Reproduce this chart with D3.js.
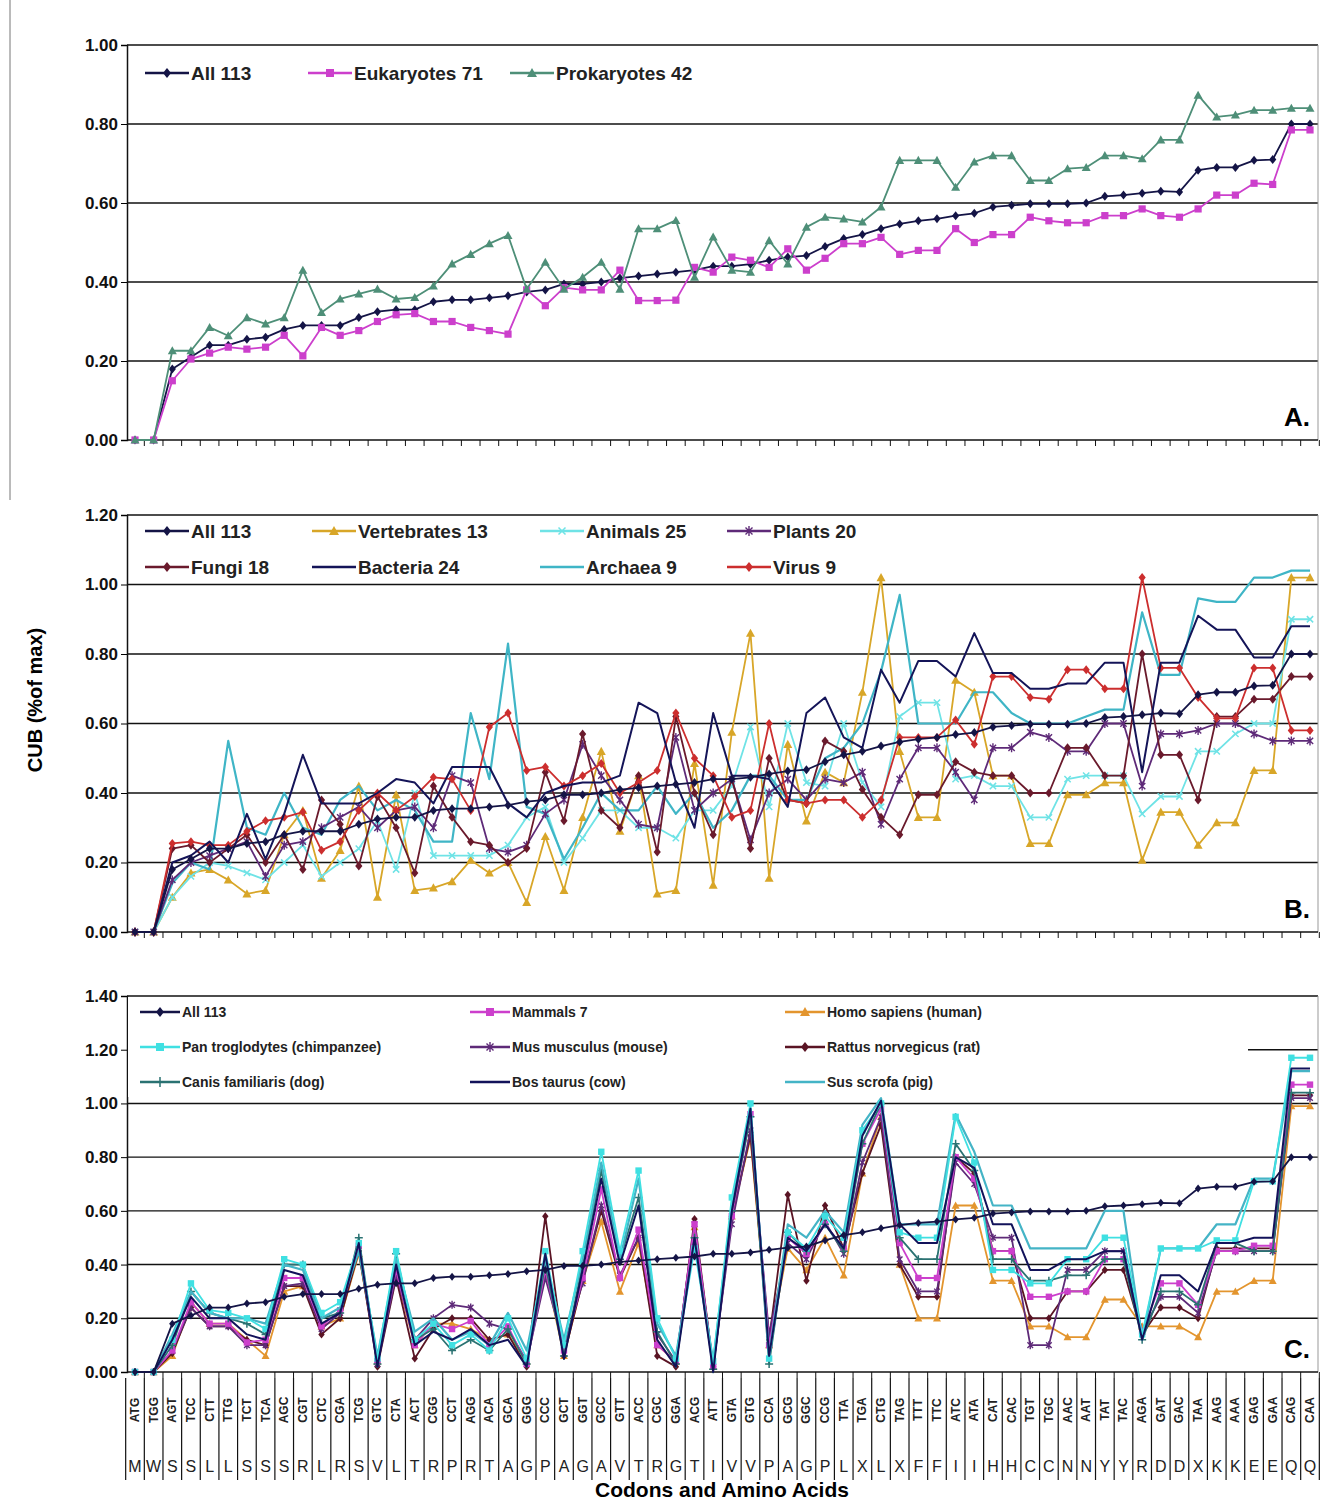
<!DOCTYPE html>
<html><head><meta charset="utf-8">
<script src="https://cdn.jsdelivr.net/npm/d3@7"></script>
<style>
body{margin:0;background:#fff;font-family:Arial,"Liberation Sans",sans-serif;}
</style></head>
<body><svg id="chart" width="1323" height="1506"></svg>
<script>
// codon order along the x axis and their amino acids
const codons = ['ATG','TGG','AGT','TCC','CTT','TTG','TCT','TCA','AGC','CGT','CTC','CGA','TCG','GTC','CTA','ACT','CGG','CCT','AGG','ACA','GCA','GGG','CCC','GCT','GGT','GCC','GTT','ACC','CGC','GGA','ACG','ATT','GTA','GTG','CCA','GCG','GGC','CCG','TTA','TGA','CTG','TAG','TTT','TTC','ATC','ATA','CAT','CAC','TGT','TGC','AAC','AAT','TAT','TAC','AGA','GAT','GAC','TAA','AAG','AAA','GAG','GAA','CAG','CAA'];
const aminos = ['M','W','S','S','L','L','S','S','S','R','L','R','S','V','L','T','R','P','R','T','A','G','P','A','G','A','V','T','R','G','T','I','V','V','P','A','G','P','L','X','L','X','F','F','I','I','H','H','C','C','N','N','Y','Y','R','D','D','X','K','K','E','E','Q','Q'];

const all113 = [0,0,0.18,0.21,0.24,0.24,0.255,0.26,0.28,0.29,0.29,0.29,0.31,0.325,0.33,0.33,0.35,0.355,0.355,0.36,0.365,0.375,0.38,0.395,0.395,0.40,0.41,0.415,0.42,0.425,0.43,0.44,0.44,0.445,0.455,0.463,0.467,0.49,0.51,0.52,0.535,0.547,0.555,0.56,0.568,0.574,0.59,0.594,0.598,0.598,0.598,0.60,0.617,0.62,0.625,0.63,0.628,0.683,0.69,0.69,0.708,0.71,0.80,0.80];
const eukaryotes = [0,0,0.15,0.205,0.22,0.235,0.23,0.235,0.265,0.213,0.285,0.265,0.277,0.30,0.317,0.32,0.30,0.30,0.285,0.277,0.268,0.38,0.34,0.386,0.38,0.38,0.43,0.353,0.353,0.354,0.437,0.425,0.463,0.455,0.437,0.484,0.43,0.46,0.497,0.497,0.513,0.47,0.48,0.48,0.535,0.50,0.52,0.52,0.564,0.555,0.55,0.55,0.568,0.568,0.585,0.568,0.564,0.585,0.62,0.62,0.65,0.647,0.785,0.785];
const prokaryotes = [0,0,0.226,0.226,0.285,0.264,0.31,0.294,0.31,0.43,0.323,0.357,0.37,0.382,0.357,0.361,0.39,0.446,0.47,0.497,0.518,0.382,0.45,0.382,0.412,0.45,0.382,0.535,0.535,0.556,0.412,0.514,0.43,0.425,0.505,0.446,0.539,0.564,0.56,0.552,0.59,0.708,0.708,0.708,0.64,0.704,0.72,0.72,0.657,0.657,0.687,0.69,0.72,0.72,0.712,0.76,0.76,0.873,0.818,0.823,0.835,0.835,0.84,0.84];

const vertebrates = [0,0,0.10,0.17,0.18,0.15,0.11,0.12,0.28,0.35,0.155,0.235,0.42,0.10,0.395,0.12,0.127,0.145,0.207,0.17,0.20,0.085,0.275,0.12,0.33,0.52,0.29,0.45,0.11,0.12,0.485,0.135,0.575,0.86,0.155,0.54,0.32,0.46,0.43,0.69,1.02,0.52,0.33,0.33,0.725,0.69,0.45,0.45,0.255,0.255,0.395,0.395,0.43,0.43,0.207,0.345,0.345,0.25,0.315,0.315,0.465,0.465,1.02,1.02];
const animals = [0,0,0.10,0.16,0.20,0.19,0.17,0.15,0.20,0.25,0.16,0.20,0.24,0.32,0.18,0.40,0.22,0.22,0.22,0.22,0.25,0.33,0.36,0.20,0.27,0.35,0.35,0.30,0.30,0.27,0.35,0.35,0.42,0.59,0.36,0.60,0.43,0.42,0.60,0.43,0.36,0.62,0.66,0.66,0.44,0.45,0.42,0.42,0.33,0.33,0.44,0.45,0.45,0.45,0.34,0.39,0.39,0.52,0.52,0.57,0.60,0.60,0.90,0.90];
const plants = [0,0,0.15,0.20,0.22,0.24,0.26,0.16,0.25,0.26,0.30,0.33,0.36,0.30,0.35,0.36,0.30,0.45,0.43,0.24,0.23,0.25,0.34,0.38,0.54,0.45,0.38,0.31,0.30,0.56,0.35,0.40,0.44,0.265,0.40,0.44,0.38,0.44,0.43,0.46,0.31,0.44,0.53,0.53,0.46,0.38,0.53,0.53,0.575,0.56,0.52,0.52,0.60,0.60,0.42,0.57,0.57,0.58,0.60,0.60,0.57,0.55,0.55,0.55];
const fungi = [0,0,0.24,0.25,0.20,0.24,0.28,0.20,0.28,0.18,0.38,0.31,0.19,0.39,0.30,0.17,0.42,0.33,0.26,0.25,0.20,0.24,0.46,0.32,0.57,0.35,0.30,0.45,0.23,0.62,0.40,0.28,0.44,0.24,0.50,0.38,0.37,0.55,0.52,0.41,0.33,0.28,0.395,0.395,0.49,0.46,0.45,0.45,0.40,0.40,0.53,0.53,0.45,0.45,0.80,0.51,0.51,0.38,0.62,0.62,0.67,0.67,0.735,0.735];
const bacteria = [0,0,0.20,0.22,0.26,0.20,0.34,0.21,0.34,0.51,0.37,0.37,0.37,0.40,0.44,0.43,0.37,0.475,0.475,0.475,0.37,0.33,0.40,0.42,0.43,0.43,0.45,0.66,0.63,0.43,0.30,0.63,0.45,0.45,0.44,0.36,0.63,0.675,0.56,0.53,0.755,0.66,0.78,0.78,0.735,0.86,0.745,0.745,0.70,0.70,0.715,0.715,0.775,0.775,0.46,0.775,0.775,0.91,0.87,0.87,0.79,0.79,0.88,0.88];
const archaea = [0,0,0.14,0.20,0.18,0.55,0.30,0.28,0.40,0.30,0.28,0.38,0.42,0.35,0.38,0.35,0.26,0.26,0.63,0.44,0.83,0.36,0.34,0.21,0.30,0.40,0.35,0.35,0.42,0.34,0.40,0.30,0.35,0.45,0.45,0.38,0.38,0.50,0.53,0.60,0.75,0.97,0.60,0.60,0.60,0.69,0.69,0.63,0.60,0.60,0.60,0.62,0.64,0.64,0.92,0.74,0.74,0.96,0.95,0.95,1.02,1.02,1.04,1.04];
const virus = [0,0,0.255,0.26,0.25,0.25,0.29,0.32,0.33,0.345,0.235,0.26,0.35,0.40,0.35,0.39,0.445,0.44,0.35,0.59,0.63,0.465,0.475,0.42,0.45,0.485,0.40,0.43,0.465,0.63,0.50,0.45,0.33,0.35,0.60,0.38,0.37,0.38,0.38,0.33,0.38,0.56,0.56,0.56,0.61,0.54,0.735,0.735,0.675,0.67,0.755,0.755,0.70,0.70,1.02,0.76,0.76,0.675,0.615,0.615,0.76,0.76,0.58,0.58];

const mammals = [0,0,0.08,0.26,0.18,0.18,0.11,0.12,0.35,0.35,0.17,0.23,0.47,0.04,0.38,0.10,0.18,0.16,0.19,0.10,0.17,0.03,0.38,0.08,0.35,0.68,0.35,0.53,0.10,0.04,0.55,0.02,0.58,0.96,0.10,0.50,0.44,0.55,0.46,0.85,0.98,0.48,0.35,0.35,0.80,0.72,0.45,0.45,0.28,0.28,0.30,0.30,0.42,0.42,0.15,0.33,0.33,0.25,0.45,0.45,0.47,0.47,1.07,1.07];
const chimp = [0,0,0.12,0.33,0.23,0.22,0.20,0.16,0.42,0.40,0.22,0.26,0.48,0.05,0.45,0.12,0.18,0.10,0.14,0.08,0.20,0.05,0.45,0.10,0.45,0.82,0.45,0.75,0.20,0.05,0.46,0.04,0.65,1.00,0.05,0.52,0.46,0.58,0.50,0.90,1.00,0.52,0.50,0.50,0.95,0.78,0.38,0.38,0.33,0.33,0.42,0.42,0.50,0.50,0.14,0.46,0.46,0.46,0.49,0.49,0.71,0.71,1.17,1.17];
const pig = [0,0,0.14,0.30,0.22,0.20,0.20,0.18,0.40,0.38,0.20,0.24,0.45,0.06,0.42,0.15,0.20,0.12,0.15,0.10,0.22,0.08,0.42,0.12,0.42,0.78,0.42,0.72,0.18,0.06,0.48,0.04,0.62,0.98,0.06,0.55,0.50,0.60,0.52,0.92,1.02,0.55,0.55,0.55,0.96,0.82,0.62,0.62,0.46,0.46,0.46,0.46,0.60,0.60,0.12,0.46,0.46,0.46,0.55,0.55,0.72,0.72,1.12,1.12];
const cow = [0,0,0.12,0.28,0.20,0.20,0.14,0.12,0.38,0.36,0.18,0.22,0.48,0.02,0.40,0.10,0.15,0.12,0.16,0.10,0.12,0.02,0.44,0.05,0.38,0.72,0.40,0.62,0.12,0.02,0.50,0.00,0.60,0.98,0.06,0.50,0.45,0.55,0.46,0.88,1.01,0.55,0.48,0.48,0.80,0.76,0.55,0.55,0.38,0.38,0.42,0.42,0.45,0.45,0.12,0.36,0.36,0.30,0.48,0.48,0.50,0.50,1.13,1.13];
const dog = [0,0,0.10,0.30,0.22,0.20,0.18,0.14,0.40,0.40,0.20,0.22,0.50,0.03,0.44,0.12,0.16,0.08,0.12,0.08,0.16,0.03,0.40,0.06,0.40,0.75,0.42,0.65,0.15,0.03,0.50,0.01,0.60,0.95,0.03,0.52,0.45,0.55,0.45,0.85,1.00,0.50,0.42,0.42,0.85,0.75,0.42,0.42,0.34,0.34,0.36,0.36,0.42,0.42,0.12,0.30,0.30,0.25,0.48,0.48,0.45,0.45,1.04,1.04];
const mouse = [0,0,0.08,0.24,0.17,0.17,0.10,0.10,0.32,0.33,0.16,0.22,0.46,0.03,0.36,0.12,0.20,0.25,0.24,0.18,0.16,0.04,0.35,0.10,0.33,0.62,0.36,0.50,0.14,0.04,0.55,0.02,0.55,0.90,0.14,0.48,0.42,0.56,0.44,0.78,0.95,0.42,0.30,0.30,0.78,0.70,0.50,0.50,0.10,0.10,0.38,0.38,0.45,0.45,0.15,0.28,0.28,0.22,0.45,0.45,0.45,0.45,1.02,1.02];
const rat = [0,0,0.07,0.24,0.17,0.17,0.12,0.10,0.32,0.32,0.14,0.20,0.45,0.02,0.35,0.05,0.16,0.20,0.20,0.12,0.14,0.02,0.58,0.06,0.34,0.60,0.35,0.50,0.06,0.02,0.57,0.02,0.58,0.88,0.12,0.66,0.34,0.62,0.46,0.74,0.92,0.40,0.28,0.28,0.80,0.74,0.45,0.45,0.20,0.20,0.30,0.30,0.38,0.38,0.14,0.24,0.24,0.20,0.46,0.46,0.46,0.46,1.03,1.03];
const human = [0,0,0.06,0.26,0.18,0.18,0.12,0.06,0.30,0.32,0.17,0.20,0.44,0.04,0.36,0.10,0.18,0.18,0.16,0.12,0.14,0.04,0.38,0.06,0.34,0.56,0.30,0.48,0.10,0.04,0.54,0.02,0.58,0.87,0.10,0.46,0.38,0.50,0.36,0.74,0.95,0.40,0.20,0.20,0.62,0.62,0.34,0.34,0.17,0.17,0.13,0.13,0.27,0.27,0.17,0.17,0.17,0.13,0.30,0.30,0.34,0.34,0.99,0.99];

const yTicksA = [0,0.2,0.4,0.6,0.8,1.0];
const yTicksB = [0,0.2,0.4,0.6,0.8,1.0,1.2];
const yTicksC = [0,0.2,0.4,0.6,0.8,1.0,1.2,1.4];

const svg = d3.select('#chart');
const left = 127, right = 1318;
const x = d3.scalePoint().domain(d3.range(codons.length)).range([135, 1310]);
const step = x.step();

const NAVY = '#141446';
const panels = [
  { letter: 'A.', top: 45, bottom: 440, max: 1.0, ticks: yTicksA,
    series: [
      { name: 'All 113', v: all113, c: NAVY, m: 'diamond' },
      { name: 'Eukaryotes 71', v: eukaryotes, c: '#cc3fcc', m: 'square' },
      { name: 'Prokaryotes 42', v: prokaryotes, c: '#4e8f78', m: 'triangle' }],
    legend: { fs: 19, rows: [[['All 113',145],['Eukaryotes 71',308],['Prokaryotes 42',510]]], y0: 73, dy: 0 } },
  { letter: 'B.', top: 515, bottom: 932, max: 1.2, ticks: yTicksB,
    series: [
      { name: 'Vertebrates 13', v: vertebrates, c: '#d8a628', m: 'triangle' },
      { name: 'Animals 25', v: animals, c: '#6fe3e6', m: 'cross' },
      { name: 'Archaea 9', v: archaea, c: '#3fb5c6', m: null, w: 2.2 },
      { name: 'Plants 20', v: plants, c: '#5e2a78', m: 'star' },
      { name: 'Fungi 18', v: fungi, c: '#6a1a2c', m: 'diamond' },
      { name: 'Virus 9', v: virus, c: '#cc2e2e', m: 'diamond' },
      { name: 'Bacteria 24', v: bacteria, c: '#141458', m: null, w: 2 },
      { name: 'All 113', v: all113, c: NAVY, m: 'diamond' }],
    legend: { fs: 19, rows: [[['All 113',145],['Vertebrates 13',312],['Animals 25',540],['Plants 20',727]],
                            [['Fungi 18',145],['Bacteria 24',312],['Archaea 9',540],['Virus 9',727]]], y0: 531, dy: 36 } },
  { letter: 'C.', top: 996, bottom: 1372, max: 1.4, ticks: yTicksC,
    series: [
      { name: 'Homo sapiens (human)', v: human, c: '#e3952e', m: 'triangle' },
      { name: 'Rattus norvegicus (rat)', v: rat, c: '#5a1424', m: 'diamond' },
      { name: 'Mus musculus (mouse)', v: mouse, c: '#5e2a78', m: 'star' },
      { name: 'Mammals 7', v: mammals, c: '#cc3fcc', m: 'square' },
      { name: 'Canis familiaris (dog)', v: dog, c: '#2a7272', m: 'plus' },
      { name: 'Sus scrofa (pig)', v: pig, c: '#44b4c6', m: null, w: 2.2 },
      { name: 'Pan troglodytes (chimpanzee)', v: chimp, c: '#3fe0e2', m: 'square' },
      { name: 'Bos taurus (cow)', v: cow, c: '#12125a', m: null, w: 2 },
      { name: 'All 113', v: all113, c: NAVY, m: 'diamond' }],
    legend: { fs: 14, box: [128, 997, 1120, 100], rows: [[['All 113',140],['Mammals 7',470],['Homo sapiens (human)',785]],
                            [['Pan troglodytes (chimpanzee)',140],['Mus musculus (mouse)',470],['Rattus norvegicus (rat)',785]],
                            [['Canis familiaris (dog)',140],['Bos taurus (cow)',470],['Sus scrofa (pig)',785]]], y0: 1012, dy: 35 } }
];

function marker(g, type, cx, cy, col, s) {
  if (!type) return;
  if (type === 'diamond') g.append('path').attr('d', `M${cx},${cy-s}L${cx+s*0.8},${cy}L${cx},${cy+s}L${cx-s*0.8},${cy}Z`).attr('fill', col);
  else if (type === 'square') g.append('rect').attr('x', cx-s*0.8).attr('y', cy-s*0.8).attr('width', s*1.6).attr('height', s*1.6).attr('fill', col);
  else if (type === 'triangle') g.append('path').attr('d', `M${cx},${cy-s}L${cx+s},${cy+s*0.8}L${cx-s},${cy+s*0.8}Z`).attr('fill', col);
  else if (type === 'cross') g.append('path').attr('d', `M${cx-s*0.7},${cy-s*0.7}L${cx+s*0.7},${cy+s*0.7}M${cx+s*0.7},${cy-s*0.7}L${cx-s*0.7},${cy+s*0.7}`).attr('stroke', col).attr('stroke-width', 1.5);
  else if (type === 'plus') g.append('path').attr('d', `M${cx-s},${cy}L${cx+s},${cy}M${cx},${cy-s}L${cx},${cy+s}`).attr('stroke', col).attr('stroke-width', 1.5);
  else if (type === 'star') g.append('path').attr('d', `M${cx-s*0.7},${cy-s*0.7}L${cx+s*0.7},${cy+s*0.7}M${cx+s*0.7},${cy-s*0.7}L${cx-s*0.7},${cy+s*0.7}M${cx},${cy-s}L${cx},${cy+s}`).attr('stroke', col).attr('stroke-width', 1.4);
}

// thin left frame line
svg.append('line').attr('x1', 10).attr('x2', 10).attr('y1', 0).attr('y2', 500).attr('stroke', '#777').attr('stroke-width', 1);

panels.forEach(p => {
  const y = d3.scaleLinear().domain([0, p.max]).range([p.bottom, p.top]);
  const g = svg.append('g');
  // grid
  g.selectAll('.grid').data(p.ticks.slice(1)).enter().append('line')
    .attr('x1', left).attr('x2', right).attr('y1', d => y(d)).attr('y2', d => y(d))
    .attr('stroke', '#111').attr('stroke-width', 1.4);
  g.append('line').attr('x1', right).attr('x2', right).attr('y1', p.top).attr('y2', p.bottom).attr('stroke', '#999');
  // y axis
  const ya = g.append('g').attr('transform', `translate(${left},0)`)
    .call(d3.axisLeft(y).tickValues(p.ticks).tickFormat(d3.format('.2f')).tickSize(6));
  ya.select('.domain').attr('stroke', '#111').attr('stroke-width', 1.5);
  ya.selectAll('text').attr('font-size', 17).attr('font-weight', 'bold').attr('font-family', 'Arial, Liberation Sans').attr('fill', '#111');
  // x baseline and ticks
  g.append('line').attr('x1', left).attr('x2', right).attr('y1', p.bottom).attr('y2', p.bottom).attr('stroke', '#111').attr('stroke-width', 1.5);
  g.selectAll('.xt').data(d3.range(codons.length)).enter().append('line')
    .attr('x1', i => x(i) + step / 2).attr('x2', i => x(i) + step / 2)
    .attr('y1', p.bottom).attr('y2', p.bottom + 6).attr('stroke', '#111');
  // legend background (covers grid lines like the original)
  if (p.legend.box) {
    const b = p.legend.box;
    g.append('rect').attr('x', b[0]).attr('y', b[1]).attr('width', b[2]).attr('height', b[3]).attr('fill', '#fff');
  }
  // series
  const line = d3.line().x((d, i) => x(i)).y(d => y(d));
  p.series.forEach(s => {
    g.append('path').datum(s.v).attr('d', line).attr('fill', 'none')
      .attr('stroke', s.c).attr('stroke-width', s.w || 1.8).attr('stroke-linejoin', 'round');
    if (s.m) s.v.forEach((d, i) => marker(g, s.m, x(i), y(d), s.c, p.legend.fs > 15 ? 4.5 : 4));
  });
  // legend
  const lookup = {};
  p.series.forEach(s => lookup[s.name] = s);
  const big = p.legend.fs > 15;
  p.legend.rows.forEach((row, ri) => row.forEach(([name, lx]) => {
    const s = lookup[name];
    const ly = p.legend.y0 + ri * p.legend.dy;
    const len = big ? 44 : 40;
    g.append('line').attr('x1', lx).attr('x2', lx + len).attr('y1', ly).attr('y2', ly).attr('stroke', s.c).attr('stroke-width', 2.5);
    marker(g, s.m, lx + len / 2, ly, s.c, 5);
    g.append('text').attr('x', lx + len + 2).attr('y', ly).attr('dy', '0.35em')
      .attr('font-size', p.legend.fs).attr('font-weight', 'bold')
      .attr('font-family', 'Arial, Liberation Sans').attr('fill', '#222').text(name);
  }));
  g.append('text').attr('x', 1310).attr('y', p.bottom - 14).attr('text-anchor', 'end')
    .attr('font-size', 26).attr('font-weight', 'bold').attr('font-family', 'Arial').text(p.letter);
});

// bottom label table
const tb = svg.append('g');
d3.range(codons.length + 1).forEach(i => {
  const xx = x(0) - step / 2 + i * step;
  tb.append('line').attr('x1', xx).attr('x2', xx).attr('y1', 1378).attr('y2', 1480).attr('stroke', '#111').attr('stroke-width', 1.2);
});
tb.selectAll('.cod').data(codons).enter().append('text')
  .attr('transform', (d, i) => `translate(${x(i) + 4},1410) rotate(-90)`)
  .attr('text-anchor', 'middle').attr('font-size', 12).attr('font-weight', 'bold')
  .attr('font-family', 'Arial').attr('fill', '#222').text(d => d);
tb.selectAll('.aa').data(aminos).enter().append('text')
  .attr('x', (d, i) => x(i)).attr('y', 1472).attr('text-anchor', 'middle')
  .attr('font-size', 16).attr('font-family', 'Arial').attr('fill', '#222').text(d => d);

svg.append('text').attr('x', 722).attr('y', 1497).attr('text-anchor', 'middle')
  .attr('font-size', 21).attr('font-weight', 'bold').attr('font-family', 'Arial').text('Codons and Amino Acids');
svg.append('text').attr('transform', 'translate(42,700) rotate(-90)').attr('text-anchor', 'middle')
  .attr('font-size', 20).attr('font-weight', 'bold').attr('font-family', 'Arial').text('CUB (%of max)');
</script></body></html>
